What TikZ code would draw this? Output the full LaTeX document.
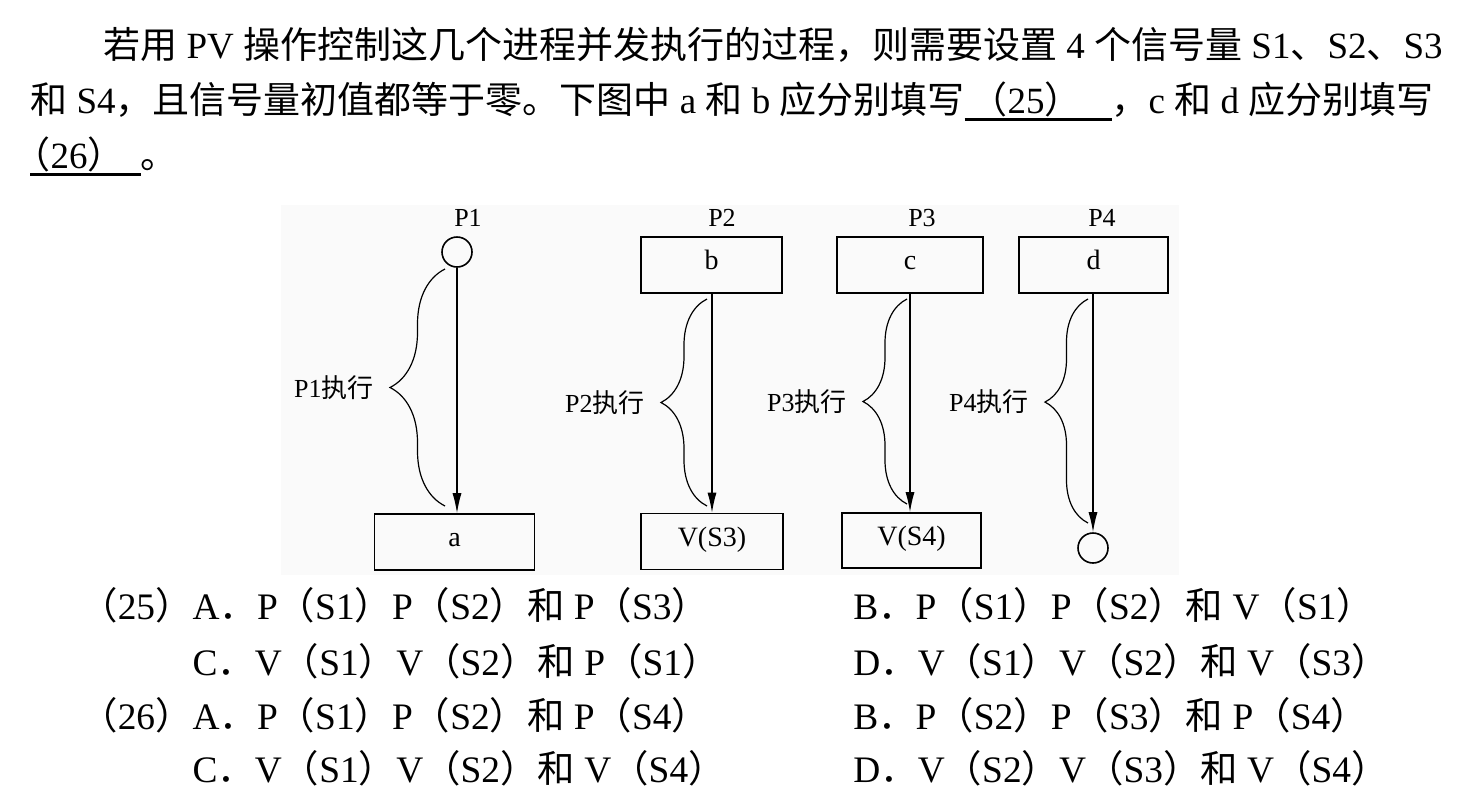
\documentclass[tikz,border=0pt]{standalone}
\usepackage{fontspec}
\setmainfont{Liberation Serif}
\newfontfamily\cjk{Noto Sans CJK SC}
\usepackage{tikz}
\usetikzlibrary{arrows.meta,positioning,calc,decorations.pathreplacing}
\newcommand{\zh}[1]{{\cjk #1}}
\newcommand{\fillin}[1]{\setbox0\hbox{#1}\rlap{\rule[-4pt]{\wd0}{1.3pt}}\box0}

\begin{document}
\begin{tikzpicture}[x=0.5pt,y=-0.5pt,
    box/.style={draw=black, thick, minimum height=28pt, inner sep=0pt, text height=0.7em, text depth=0.25em, font=\fontsize{14}{16}\selectfont},
    endpt/.style={circle, draw=black, thick, minimum size=15pt, inner sep=0pt},
    lbl/.style={font=\fontsize{13}{15}\selectfont, inner sep=0pt},
    flow/.style={-{Latex[length=10pt,width=4.5pt]}, semithick},
    brc/.style={decorate, decoration={brace, amplitude=#1}, semithick},
    txt/.style={anchor=base west, inner sep=0pt, font=\fontsize{18.5}{22}\selectfont},
    opt/.style={anchor=base west, inner sep=0pt, font=\fontsize{18.7}{22}\selectfont}]
  \useasboundingbox (0,0) rectangle (1464,800);

  % question text
  \node (line1) [txt] at (103,58) {\zh{若用} PV \zh{操作控制这几个进程并发执行的过程，则需要设置} 4 \zh{个信号量} S1\zh{、}S2\zh{、}S3};
  \node (line2) [txt] at (30,113) {\zh{和} S4\zh{，且信号量初值都等于零。下图中} a \zh{和} b \zh{应分别填写}\fillin{\hspace{3pt}\zh{（}25\zh{）}\hspace{15pt}}\zh{，}c \zh{和} d \zh{应分别填写}};
  \node (line3) [txt] at (30,168) {\fillin{\kern-0.45em\zh{（}26\zh{）}\hspace{8pt}}\zh{。}};

  % diagram
  \fill[black!2] (281,205) rectangle (1179,575);

  \node (P1lbl) [lbl] at (468,218) {P1};
  \node (P2lbl) [lbl] at (722,218) {P2};
  \node (P3lbl) [lbl] at (922,218) {P3};
  \node (P4lbl) [lbl] at (1102,218) {P4};

  \node (P1s) [endpt] at (457,252) {};
  \node (b) [box, minimum width=70.5pt] at (711.5,265) {b};
  \node (c) [box, minimum width=73pt] at (910,265) {c};
  \node (d) [box, minimum width=74.5pt] at (1093.5,265) {d};

  \node (a) [box, minimum width=80pt] at (454.5,542) {a};
  \node (vs3) [box, minimum width=71pt] at (712,541.5) {V(S3)};
  \node (vs4) [box, minimum width=69.5pt, minimum height=27.5pt] at (911.5,540.5) {V(S4)};
  \node (P4e) [endpt] at (1093,548) {};

  \draw [flow] (P1s.south) -- (P1s.south |- a.north);
  \draw [flow] (b.south -| vs3.north) -- (vs3.north);
  \draw [flow] (c.south) -- (c.south |- vs4.north);
  \draw [flow] (d.south -| P4e.north) -- (P4e.north);

  % braces
  \draw [brc=27.5pt] (445,506) -- (445,269);
  \draw [brc=23pt] (707,506) -- (707,299);
  \draw [brc=22pt] (907,504) -- (907,299);
  \draw [brc=21.5pt, decoration={aspect=0.54}] (1088,523) -- (1088,299);

  \coordinate (t1) at (390,388);
  \coordinate (t2) at (661,403);
  \coordinate (t3) at (863,402);
  \coordinate (t4) at (1045,402);
  \node (e1) [lbl, left=8pt of t1] {P1\zh{执行}};
  \node (e2) [lbl, left=8pt of t2] {P2\zh{执行}};
  \node (e3) [lbl, left=8pt of t3] {P3\zh{执行}};
  \node (e4) [lbl, left=8pt of t4] {P4\zh{执行}};

  % options
  \node (q25a) [opt] at (80,619) {\zh{（}25\zh{）}A\zh{．}P\zh{（}S1\zh{）}P\zh{（}S2\zh{）和} P\zh{（}S3\zh{）}};
  \node (q25b) [opt] at (853,619) {B\zh{．}P\zh{（}S1\zh{）}P\zh{（}S2\zh{）和} V\zh{（}S1\zh{）}};
  \node (q25c) [opt] at (80,675) {\phantom{\zh{（}25\zh{）}}C\zh{．}V\zh{（}S1\zh{）}V\zh{（}S2\zh{）和} P\zh{（}S1\zh{）}};
  \node (q25d) [opt] at (853,675) {D\zh{．}V\zh{（}S1\zh{）}V\zh{（}S2\zh{）和} V\zh{（}S3\zh{）}};
  \node (q26a) [opt] at (80,729) {\zh{（}26\zh{）}A\zh{．}P\zh{（}S1\zh{）}P\zh{（}S2\zh{）和} P\zh{（}S4\zh{）}};
  \node (q26b) [opt] at (853,729) {B\zh{．}P\zh{（}S2\zh{）}P\zh{（}S3\zh{）和} P\zh{（}S4\zh{）}};
  \node (q26c) [opt] at (80,782) {\phantom{\zh{（}26\zh{）}}C\zh{．}V\zh{（}S1\zh{）}V\zh{（}S2\zh{）和} V\zh{（}S4\zh{）}};
  \node (q26d) [opt] at (853,782) {D\zh{．}V\zh{（}S2\zh{）}V\zh{（}S3\zh{）和} V\zh{（}S4\zh{）}};
\end{tikzpicture}
\end{document}
